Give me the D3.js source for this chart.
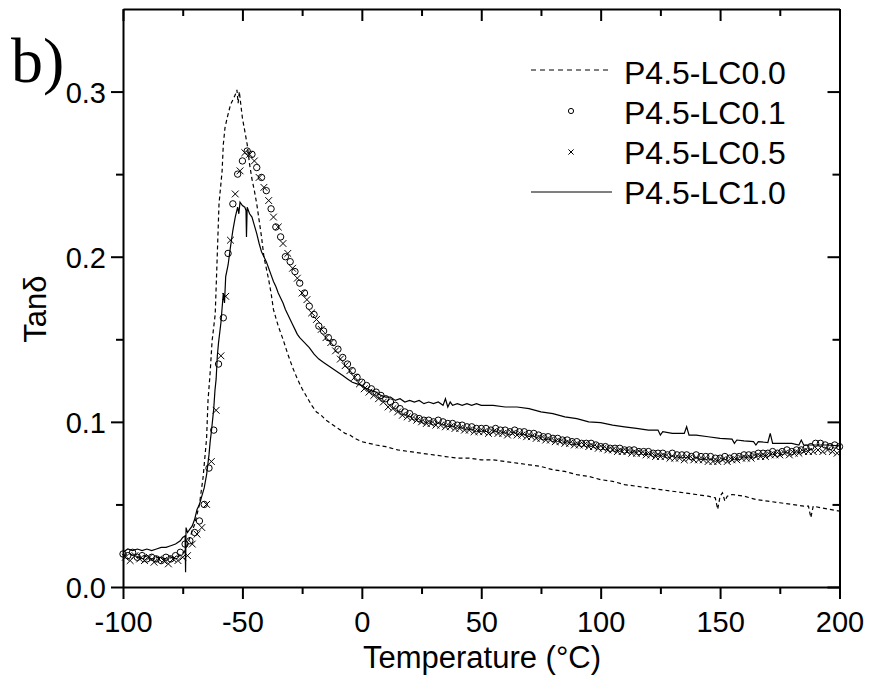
<!DOCTYPE html>
<html>
<head>
<meta charset="utf-8">
<script src="https://cdn.jsdelivr.net/npm/d3@7"></script>
<style>
    body { margin: 0; background: #fff; }
</style>
</head>
<body>
<div id="chart"></div>
<script>
// Series names (legend order)
const seriesNames = ["P4.5-LC0.0", "P4.5-LC0.1", "P4.5-LC0.5", "P4.5-LC1.0"];

// Axis ticks
const xTicks = [-100, -50, 0, 50, 100, 150, 200];
const xMinorTicks = [-75, -25, 25, 75, 125, 175];
const yTicks = [0.0, 0.1, 0.2, 0.3];
const yMinorTicks = [0.05, 0.15, 0.25];

// P4.5-LC0.0 (dashed line): [temperature, tan delta]
const lc00 = [
    [-100,0.019],[-97,0.020],[-94,0.018],[-91,0.019],[-88,0.017],[-85,0.018],[-82,0.017],[-79,0.018],
    [-76,0.019],[-74,0.022],[-72,0.030],[-70,0.038],[-68,0.050],[-66.5,0.066],[-65,0.090],[-64.4,0.113],
    [-63.5,0.130],[-62.7,0.149],[-61.4,0.165],[-60.6,0.198],[-59.8,0.232],[-58.5,0.252],[-58,0.268],
    [-57.3,0.278],[-56.4,0.284],[-55,0.292],[-54,0.295],[-53,0.298],[-52.3,0.301],[-51.8,0.293],
    [-51.3,0.300],[-50.5,0.290],[-50,0.284],[-49,0.276],[-48,0.268],[-47,0.256],[-46,0.247],[-45,0.240],
    [-44,0.232],[-43,0.222],[-42,0.212],[-41,0.200],[-40,0.193],[-39,0.186],[-38,0.178],[-37,0.168],
    [-36,0.163],[-35,0.158],[-33,0.150],[-31,0.141],[-29,0.133],[-27,0.126],[-25,0.120],[-23,0.115],
    [-21,0.110],[-19,0.106],[-17,0.104],[-15,0.101],[-13,0.099],[-11,0.097],[-9,0.095],[-7,0.093],
    [-5,0.092],[-3,0.090],[0,0.088],[3,0.087],[6,0.086],[10,0.085],[15,0.083],[20,0.082],[25,0.081],
    [30,0.080],[35,0.079],[40,0.078],[45,0.078],[50,0.077],[55,0.077],[60,0.076],[65,0.075],[70,0.074],
    [75,0.073],[80,0.071],[85,0.070],[90,0.068],[95,0.067],[100,0.065],[105,0.064],[110,0.062],
    [115,0.061],[120,0.060],[125,0.059],[130,0.058],[135,0.057],[140,0.056],[145,0.055],[148,0.054],
    [149,0.047],[150,0.055],[151,0.057],[152,0.052],[153,0.055],[155,0.056],[160,0.055],[165,0.053],
    [170,0.052],[175,0.051],[180,0.050],[185,0.049],[187,0.049],[188,0.042],[189,0.049],[192,0.048],
    [196,0.047],[200,0.046]
];

// P4.5-LC0.1 (circles)
const lc01T = [
    -100,-98,-96,-94,-92,-90,-88,-86,-84,-82,-80,-78,-76,-74,-72,-70,-68,-66,-64,-62,-60,-58,-56,-54,
    -52,-50,-48,-46,-44,-42,-40,-38,-36,-34,-32,-30,-28,-26,-24,-22,-20,-18,-16,-14,-12,-10,-8,-6,-4,-2,
    0,2,4,6,8,10,12,14,16,18,20,22,24,26,28,30,32,34,36,38,40,42,44,46,48,50,52,54,56,58,60,62,64,66,68,
    70,72,74,76,78,80,82,84,86,88,90,92,94,96,98,100,102,104,106,108,110,112,114,116,118,120,122,124,
    126,128,130,132,134,136,138,140,142,144,146,148,150,152,154,156,158,160,162,164,166,168,170,172,174,
    176,178,180,182,184,186,188,190,192,194,196,198,200
];
const lc01V = [
    0.020,0.019,0.021,0.018,0.019,0.017,0.018,0.017,0.016,0.018,0.017,0.019,0.021,0.026,0.028,0.033,
    0.040,0.050,0.072,0.095,0.135,0.163,0.202,0.232,0.250,0.258,0.264,0.262,0.254,0.248,0.240,0.229,
    0.218,0.212,0.200,0.197,0.191,0.184,0.178,0.170,0.165,0.158,0.155,0.151,0.148,0.144,0.139,0.135,
    0.131,0.127,0.124,0.122,0.120,0.118,0.116,0.114,0.112,0.110,0.108,0.106,0.105,0.103,0.102,0.101,
    0.101,0.100,0.101,0.100,0.099,0.099,0.098,0.098,0.097,0.097,0.096,0.096,0.096,0.095,0.096,0.095,
    0.095,0.094,0.095,0.094,0.094,0.093,0.093,0.092,0.091,0.091,0.090,0.090,0.089,0.089,0.088,0.088,
    0.087,0.087,0.087,0.086,0.085,0.085,0.084,0.084,0.084,0.083,0.083,0.083,0.082,0.082,0.082,0.081,
    0.081,0.081,0.080,0.081,0.080,0.080,0.080,0.079,0.080,0.079,0.079,0.079,0.078,0.078,0.079,0.078,
    0.079,0.079,0.080,0.080,0.080,0.081,0.081,0.081,0.082,0.081,0.082,0.083,0.082,0.083,0.083,0.084,
    0.085,0.087,0.087,0.086,0.085,0.086,0.085
];

// P4.5-LC0.5 (crosses)
const lc05T = [
    -99,-97,-95,-93,-91,-89,-87,-85,-83,-81,-79,-77,-75,-73,-71,-69,-67,-65,-63,-61,-59,-57,-55,-53,
    -51,-49,-47,-45,-43,-41,-39,-37,-35,-33,-31,-29,-27,-25,-23,-21,-19,-17,-15,-13,-11,-9,-7,-5,-3,-1,
    1,3,5,7,9,11,13,15,17,19,21,23,25,27,29,31,33,35,37,39,41,43,45,47,49,51,53,55,57,59,61,63,65,67,69,
    71,73,75,77,79,81,83,85,87,89,91,93,95,97,99,101,103,105,107,109,111,113,115,117,119,121,123,125,
    127,129,131,133,135,137,139,141,143,145,147,149,151,153,155,157,159,161,163,165,167,169,171,173,175,
    177,179,181,183,185,187,189,191,193,195,197,199
];
const lc05V = [
    0.018,0.016,0.019,0.017,0.016,0.018,0.015,0.017,0.016,0.014,0.017,0.016,0.018,0.019,0.026,0.032,
    0.036,0.050,0.076,0.107,0.140,0.176,0.210,0.238,0.252,0.263,0.262,0.258,0.248,0.242,0.234,0.224,
    0.218,0.208,0.202,0.193,0.187,0.178,0.174,0.166,0.162,0.156,0.151,0.148,0.143,0.138,0.134,0.131,
    0.127,0.123,0.120,0.118,0.116,0.114,0.112,0.109,0.108,0.106,0.104,0.103,0.102,0.101,0.100,0.099,
    0.099,0.098,0.098,0.097,0.097,0.096,0.096,0.095,0.095,0.094,0.094,0.094,0.093,0.094,0.093,0.093,
    0.092,0.093,0.092,0.092,0.091,0.091,0.090,0.090,0.089,0.089,0.088,0.088,0.087,0.087,0.086,0.086,
    0.086,0.085,0.085,0.084,0.084,0.083,0.083,0.082,0.082,0.082,0.081,0.081,0.081,0.080,0.080,0.079,
    0.079,0.079,0.078,0.078,0.078,0.077,0.078,0.077,0.077,0.077,0.076,0.076,0.076,0.077,0.076,0.077,
    0.077,0.078,0.078,0.078,0.079,0.079,0.079,0.080,0.080,0.080,0.081,0.080,0.081,0.081,0.082,0.082,
    0.082,0.083,0.082,0.083,0.082,0.081
];

// P4.5-LC1.0 (solid line): [temperature, tan delta]
const lc10 = [
    [-100,0.021],[-98,0.023],[-96,0.022],[-94,0.023],[-92,0.022],[-90,0.023],[-88,0.022],[-86,0.023],
    [-84,0.024],[-82,0.024],[-80,0.025],[-78,0.026],[-76,0.028],[-75,0.030],[-74,0.031],[-73.8,0.009],
    [-73.6,0.036],[-73,0.033],[-72,0.035],[-71,0.037],[-70,0.041],[-69,0.047],[-68,0.050],[-67,0.055],
    [-66,0.060],[-65,0.068],[-64,0.080],[-63.5,0.088],[-63,0.094],[-62,0.108],[-61.5,0.119],[-61,0.126],
    [-60.5,0.140],[-60,0.148],[-59,0.160],[-58,0.178],[-57.5,0.172],[-57,0.188],[-56,0.195],[-55,0.206],
    [-54,0.216],[-53,0.224],[-52,0.230],[-51.5,0.226],[-51,0.233],[-50,0.231],[-49,0.230],[-48.5,0.228],
    [-48.3,0.212],[-48,0.230],[-47,0.226],[-46,0.224],[-45,0.219],[-44,0.214],[-43,0.208],[-42,0.203],
    [-41,0.200],[-40,0.197],[-39,0.193],[-38,0.189],[-37,0.185],[-36,0.182],[-35,0.178],[-34,0.175],
    [-33,0.172],[-32,0.168],[-31,0.165],[-30,0.162],[-29,0.159],[-28,0.156],[-27,0.153],[-26,0.151],
    [-24,0.148],[-22,0.145],[-20,0.141],[-18,0.138],[-16,0.136],[-14,0.134],[-12,0.132],[-10,0.130],
    [-8,0.128],[-6,0.126],[-4,0.124],[-2,0.123],[0,0.122],[2,0.120],[4,0.119],[6,0.118],[8,0.116],
    [10,0.115],[12,0.115],[14,0.113],[16,0.114],[18,0.112],[20,0.113],[22,0.112],[24,0.113],[26,0.111],
    [28,0.112],[30,0.111],[32,0.112],[34,0.110],[35,0.114],[36,0.109],[37,0.112],[38,0.110],[40,0.111],
    [42,0.110],[44,0.111],[46,0.110],[48,0.111],[50,0.110],[55,0.110],[60,0.109],[65,0.109],[70,0.108],
    [75,0.106],[80,0.105],[85,0.103],[90,0.102],[95,0.100],[100,0.0995],[105,0.098],[110,0.097],
    [115,0.096],[120,0.095],[124,0.095],[125,0.092],[126,0.094],[130,0.093],[135,0.093],[136,0.097],
    [137,0.092],[140,0.092],[145,0.091],[150,0.090],[155,0.0895],[156,0.087],[157,0.089],[160,0.0885],
    [164,0.088],[165,0.086],[166,0.088],[170,0.0875],[171,0.093],[172,0.087],[175,0.087],[180,0.087],
    [183,0.086],[184,0.089],[185,0.086],[190,0.086],[195,0.086],[200,0.0855]
];

// Set up the SVG
const width = 869;
const height = 679;
const svg = d3.select("#chart")
    .append("svg")
    .attr("width", width)
    .attr("height", height)
    .style("font-family", "'Liberation Sans', Arial, sans-serif");

const x = d3.scaleLinear().domain([-100, 200]).range([123, 839.5]);
const y = d3.scaleLinear().domain([0, 0.35]).range([587, 9]);

const majorLen = 12;
const minorLen = 7;

// Draw one side of the frame with its ticks
function drawSide(axisFn, scale, transform, major, minor, inward, fmt) {
    const sign = inward ? -1 : 1;
    const gMaj = svg.append("g")
        .attr("transform", transform)
        .call(axisFn(scale).tickValues(major).tickSizeInner(sign * majorLen).tickSizeOuter(0)
            .tickFormat(fmt || ""));
    const gMin = svg.append("g")
        .attr("transform", transform)
        .call(axisFn(scale).tickValues(minor).tickSizeInner(sign * minorLen).tickSizeOuter(0).tickFormat(""));
    [gMaj, gMin].forEach(g => {
        g.attr("font-family", null);
        g.selectAll("path").attr("stroke", "#000").attr("stroke-width", 2);
        g.selectAll("line").attr("stroke", "#000").attr("stroke-width", 2);
    });
    gMin.select("path").remove();
    return gMaj;
}

// Bottom axis (plain hyphen for negatives, like the original)
const bottom = drawSide(d3.axisBottom, x, `translate(0,${y(0)})`, xTicks, xMinorTicks, false, d => String(d));
bottom.selectAll("text")
    .attr("font-size", 29)
    .attr("fill", "#000")
    .attr("dy", null)
    .attr("y", 45);

// Top axis
drawSide(d3.axisTop, x, `translate(0,${y(0.35)})`, xTicks, xMinorTicks, true, null);

// Left axis
const left = drawSide(d3.axisLeft, y, `translate(${x(-100)},0)`, yTicks, yMinorTicks, false, d3.format(".1f"));
left.selectAll("text")
    .attr("font-size", 29)
    .attr("fill", "#000")
    .attr("x", -17)
    .attr("dy", "0.36em");

// Right axis
drawSide(d3.axisRight, y, `translate(${x(200)},0)`, yTicks, yMinorTicks, true, null);

// Axis titles
svg.append("text")
    .attr("x", 482)
    .attr("y", 668)
    .attr("text-anchor", "middle")
    .attr("font-size", 31)
    .text("Temperature (°C)");

svg.append("text")
    .attr("transform", "translate(46,309) rotate(-90)")
    .attr("text-anchor", "middle")
    .attr("font-size", 31)
    .text("Tanδ");

// Panel label
svg.append("text")
    .attr("x", 11)
    .attr("y", 82)
    .style("font-family", "'Liberation Serif', 'Times New Roman', serif")
    .attr("font-size", 64)
    .text("b)");

// Lines
const line = d3.line()
    .x(d => x(d[0]))
    .y(d => y(d[1]));

svg.append("path")
    .datum(lc00)
    .attr("d", line)
    .attr("fill", "none")
    .attr("stroke", "#000")
    .attr("stroke-width", 1.2)
    .attr("stroke-dasharray", "4,3");

svg.append("path")
    .datum(lc10)
    .attr("d", line)
    .attr("fill", "none")
    .attr("stroke", "#000")
    .attr("stroke-width", 1.2);

// Markers
const circles = lc01T.map((t, i) => [t, lc01V[i]]);
const crosses = lc05T.map((t, i) => [t, lc05V[i]]);

svg.append("g")
    .selectAll("circle")
    .data(circles)
    .enter().append("circle")
    .attr("cx", d => x(d[0]))
    .attr("cy", d => y(d[1]))
    .attr("r", 3.2)
    .attr("fill", "none")
    .attr("stroke", "#000")
    .attr("stroke-width", 1);

const crossPath = s => `M${-s},${-s}L${s},${s}M${-s},${s}L${s},${-s}`;
svg.append("g")
    .selectAll("path")
    .data(crosses)
    .enter().append("path")
    .attr("transform", d => `translate(${x(d[0])},${y(d[1])})`)
    .attr("d", crossPath(3.4))
    .attr("stroke", "#000")
    .attr("stroke-width", 1);

// Legend
const legend = svg.append("g");
const legendY = [72, 112, 152, 192];
seriesNames.forEach((name, i) => {
    legend.append("text")
        .attr("x", 624)
        .attr("y", legendY[i])
        .attr("dy", "0.36em")
        .attr("font-size", 32)
        .text(name);
});
legend.append("line")
    .attr("x1", 531).attr("x2", 612)
    .attr("y1", legendY[0] - 2).attr("y2", legendY[0] - 2)
    .attr("stroke", "#000").attr("stroke-width", 1)
    .attr("stroke-dasharray", "5,4");
legend.append("circle")
    .attr("cx", 571).attr("cy", legendY[1] - 1)
    .attr("r", 2.6)
    .attr("fill", "none").attr("stroke", "#000").attr("stroke-width", 1);
legend.append("path")
    .attr("transform", `translate(571,${legendY[2]})`)
    .attr("d", crossPath(2.6))
    .attr("stroke", "#000").attr("stroke-width", 1);
legend.append("line")
    .attr("x1", 531).attr("x2", 612)
    .attr("y1", legendY[3]).attr("y2", legendY[3])
    .attr("stroke", "#000").attr("stroke-width", 1);
</script>
</body>
</html>
